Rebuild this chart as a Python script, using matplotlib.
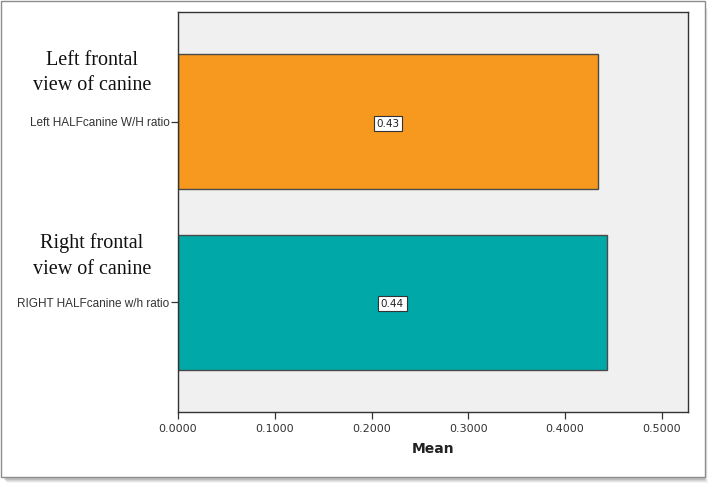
import matplotlib.pyplot as plt
from matplotlib.patches import Rectangle

# data
categories = ['Left HALFcanine W/H ratio', 'RIGHT HALFcanine w/h ratio']
means = [0.434, 0.443]
value_labels = ['0.43', '0.44']
group_notes = ['Left frontal\nview of canine', 'Right frontal\nview of canine']
bar_colors = ['#F7991E', '#00A8A8']
xticks = [0.0, 0.1, 0.2, 0.3, 0.4, 0.5]

fig = plt.figure(figsize=(7.14, 4.87), dpi=100)
W, H = 714, 487

# outer frame with drop shadow
for k, a in enumerate([0.10, 0.08, 0.06, 0.04]):
    fig.patches.append(Rectangle(((4 + k) / W, (H - 477 - 3 - k) / H), (701) / W, (474) / H,
                                 transform=fig.transFigure, facecolor='#000000',
                                 alpha=a, edgecolor='none', zorder=0))
fig.patches.append(Rectangle((1 / W, (H - 477) / H), 704 / W, 476 / H,
                             transform=fig.transFigure, facecolor='white',
                             edgecolor='#8C8C8C', linewidth=1.0, zorder=1))

ax = fig.add_axes([178 / W, (H - 412) / H, (688 - 178) / W, (412 - 12) / H])
ax.set_facecolor('#F0F0F0')
ax.set_zorder(2)

ypos = list(range(len(categories)))
ax.barh(ypos, means, height=0.75, color=bar_colors, edgecolor='#4A4A4A',
        linewidth=1.0, zorder=2)

for y, v, lab in zip(ypos, means, value_labels):
    ax.text(v / 2, y + 0.01, lab, ha='center', va='center', fontsize=7.5,
            family='DejaVu Sans', color='#222222', zorder=3,
            bbox=dict(boxstyle='square,pad=0.25', facecolor='white',
                      edgecolor='#333333', linewidth=0.8))

ax.set_xlim(0, 0.527)
ax.set_ylim(1.61, -0.61)
ax.set_xticks(xticks)
ax.set_xticklabels(['%.4f' % t for t in xticks], fontsize=8, color='#333333')
ax.set_yticks(ypos)
ax.set_yticklabels(categories, fontsize=8.5, family='Liberation Sans', color='#333333')
ax.tick_params(axis='both', direction='out', length=5, width=0.9, color='#333333')
ax.tick_params(axis='y', pad=1)
for s in ax.spines.values():
    s.set_color('#333333')
    s.set_linewidth(1.0)

ax.set_xlabel('Mean', fontsize=10, fontweight='bold', color='#222222', labelpad=6)

# group notes in serif on the left side
for y, note in zip([73 / H, 256 / H], group_notes):
    fig.text(92 / W, 1 - y, note, ha='center', va='center', fontsize=14.5,
             family='Liberation Serif', color='#111111', linespacing=1.45)

fig.savefig('out.png', dpi=100)
